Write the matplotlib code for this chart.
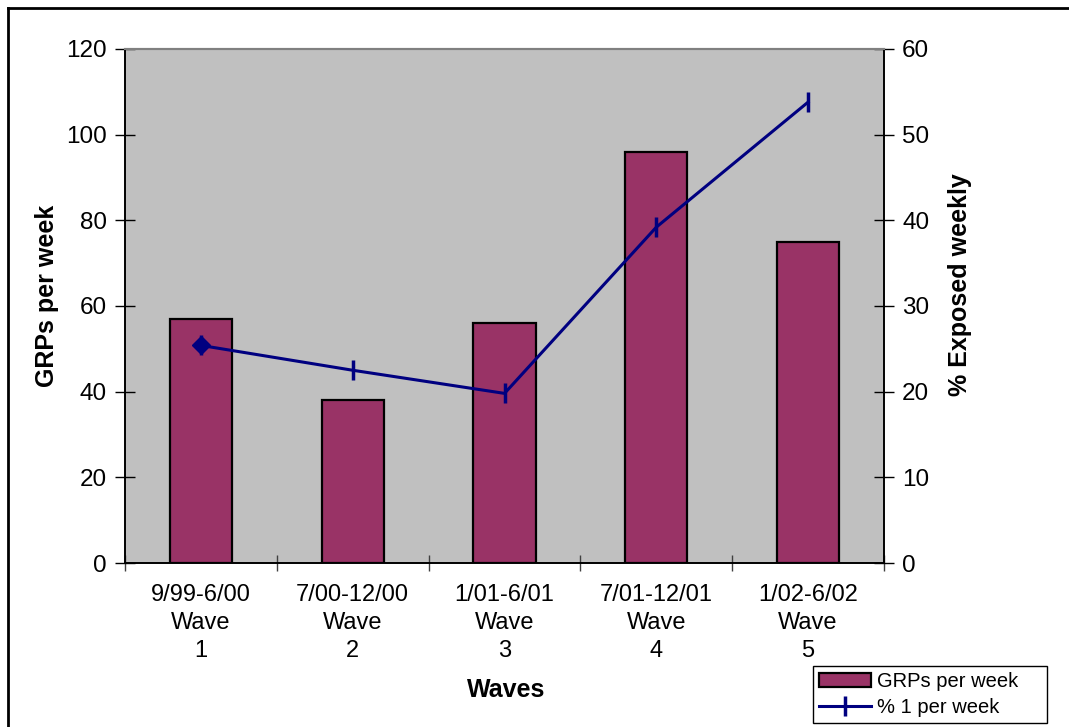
import numpy as np
import matplotlib.pyplot as plt
from matplotlib.lines import Line2D

plt.rcParams['font.family'] = ['Liberation Sans', 'DejaVu Sans']

# Data
waves = ["9/99-6/00\nWave\n1", "7/00-12/00\nWave\n2", "1/01-6/01\nWave\n3",
         "7/01-12/01\nWave\n4", "1/02-6/02\nWave\n5"]
grps_per_week = [57, 38, 56, 96, 75]
pct_1_per_week = [25.4, 22.5, 19.8, 39.2, 53.8]

W, H = 1069, 727
fig = plt.figure(figsize=(W / 100, H / 100), dpi=100)
ax = fig.add_axes([125 / W, 1 - 563 / H, (884 - 125) / W, (563 - 49) / H])
ax.set_facecolor('#c0c0c0')

x = np.arange(len(waves))
bars = ax.bar(x, grps_per_week, width=0.41, color='#993366', edgecolor='black',
              linewidth=1.6, label='GRPs per week', zorder=2)
ax.set_xlim(-0.5, len(waves) - 0.5)
ax.set_ylim(0, 120)
ax.set_yticks(range(0, 121, 20))
ax.set_xticks(x)
ax.set_xticklabels(waves, fontsize=17, linespacing=1.36)
ax.set_xticks(np.arange(-0.5, len(waves)), minor=True)
ax.tick_params(axis='x', which='major', length=0, pad=15)
ax.tick_params(axis='x', which='minor', length=12, direction='inout', width=1, color='#404040')
ax.tick_params(axis='y', labelsize=17.5, length=14, direction='inout', width=1, pad=6)
ax.set_ylabel('GRPs per week', fontsize=18, fontweight='bold')
ax.yaxis.set_label_coords(-0.103, 0.519)
ax.set_xlabel('Waves', fontsize=18, fontweight='bold')
ax.xaxis.set_label_coords(0.502, -0.247)
ax.xaxis.label.set_va('center')

ax2 = ax.twinx()
line, = ax2.plot(x, pct_1_per_week, color='#000080', linewidth=2.2, marker='|',
                 markersize=14, markeredgewidth=2.5, label='% 1 per week', zorder=3)
ax2.plot(x[:1], pct_1_per_week[:1], linestyle='none', marker='D', color='#000080',
         markersize=9, zorder=4)
ax2.set_ylim(0, 60)
ax2.set_yticks(range(0, 61, 10))
ax2.tick_params(axis='y', labelsize=17.5, length=14, direction='inout', width=1, pad=6)
ax2.set_ylabel('% Exposed weekly', fontsize=18, fontweight='bold')
ax2.yaxis.set_label_coords(1.1, 0.541)
ax2.yaxis.label.set_va('center')
ax.yaxis.label.set_va('center')

for a in (ax, ax2):
    a.spines['top'].set_color('#808080')
    a.spines['top'].set_linewidth(1.5)
    a.spines['left'].set_linewidth(1.2)
    a.spines['right'].set_linewidth(1.2)
    a.spines['bottom'].set_linewidth(1.2)

fig.legend([bars, line], ['GRPs per week    ', '% 1 per week    '],
           loc='lower left', bbox_to_anchor=(813 / W, 1 - 723 / H),
           fontsize=14.5, frameon=True, fancybox=False, edgecolor='black',
           framealpha=1, borderpad=0.3, labelspacing=0.35, handlelength=2.6,
           handletextpad=0.3, borderaxespad=0)

# figure border (clipped at right and bottom as in the original)
fig.add_artist(Line2D([8 / W, 8 / W], [0, 1 - 8 / H], color='black', linewidth=2))
fig.add_artist(Line2D([8 / W, 1], [1 - 8 / H, 1 - 8 / H], color='black', linewidth=2))

fig.savefig('out.png', dpi=100)
